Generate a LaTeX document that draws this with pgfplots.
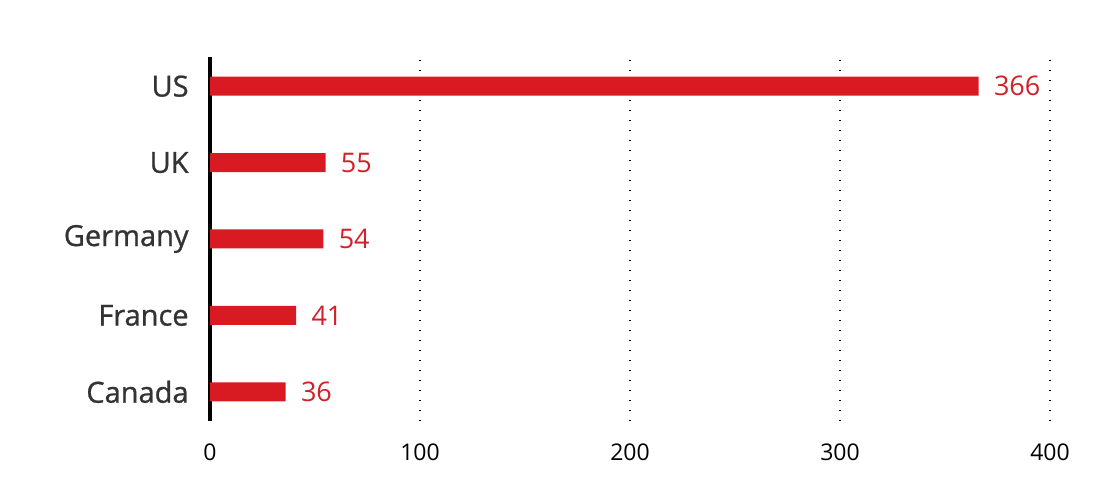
\documentclass[border=0pt]{standalone}
\usepackage{pgfplots}
\pgfplotsset{compat=1.18}
\usepackage{fontspec}
\setmainfont{Open Sans}
\newfontfamily\catfont{Open Sans}[FakeBold=0.9]
\definecolor{barred}{RGB}{216,27,35}
\definecolor{labred}{RGB}{208,32,42}
\definecolor{catgray}{RGB}{51,51,51}
\begin{document}
\begin{tikzpicture}
\useasboundingbox (0,0) rectangle (554pt,249pt);
\begin{axis}[
    at={(105pt,38.5pt)}, anchor=south west,
    scale only axis, width=420pt, height=182pt,
    xmin=0, xmax=400, ymin=-0.382, ymax=4.382,
    xbar, bar width=9.5pt, bar shift=0pt,
    axis line style={draw=none},
    major tick length=0pt,
    xtick={0,100,200,300,400},
    ytick={0,1,2,3,4},
    yticklabels={Canada,France,Germany,UK,US},
    xmajorgrids,
    grid style={black, line width=0.7pt, dash pattern=on 0.7pt off 4.3pt},
    extra x ticks={0}, extra x tick labels={},
    extra x tick style={grid style={solid, black, line width=1.6pt}},
    /pgf/number format/assume math mode=true,
    xticklabel style={font=\fontsize{11.5}{13}\selectfont, black, inner sep=0pt, yshift=-11pt},
    yticklabel style={font=\catfont\fontsize{14.5}{16}\selectfont, catgray, inner sep=0pt, xshift=-10.5pt},
    nodes near coords,
    every node near coord/.append style={font=\fontsize{13.5}{16}\selectfont, labred, anchor=west, inner sep=0pt, xshift=7.5pt},
]
\addplot[fill=barred, draw=none] coordinates {
    (366,4)
    (55,3)
    (54,2)
    (41,1)
    (36,0)
};
\end{axis}
\end{tikzpicture}
\end{document}
